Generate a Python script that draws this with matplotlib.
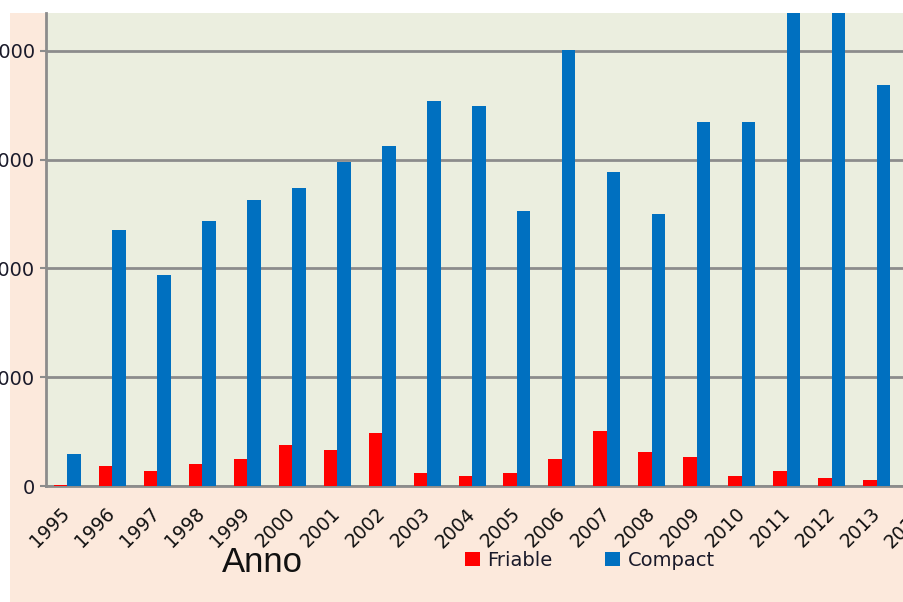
import matplotlib
matplotlib.use("Agg")
import matplotlib.pyplot as plt
import numpy as np
from matplotlib.patches import Rectangle, Patch

years = ["1995", "1996", "1997", "1998", "1999", "2000", "2001", "2002", "2003", "2004",
         "2005", "2006", "2007", "2008", "2009", "2010", "2011", "2012", "2013", "2014"]
friable = [10, 181, 141, 205, 245, 377, 334, 484, 117, 95,
           117, 245, 505, 312, 269, 95, 141, 74, 52]
compact = [291, 2353, 1942, 2438, 2629, 2742, 2975, 3125, 3536, 3493,
           2525, 4004, 2889, 2503, 3343, 3343, 4800, 4750, 3689]
yticks = [0, 1000, 2000, 3000, 4000]

W, H = 904, 602
fig = plt.figure(figsize=(W / 100, H / 100), dpi=100)
fig.patch.set_facecolor("white")
fig.patches.append(Rectangle((10 / W, 0.5 / H), 1, (589 - 0.5) / H,
                             transform=fig.transFigure, facecolor="#FCE9DC",
                             edgecolor="none", zorder=-10))

ax = fig.add_axes([46 / W, 116 / H, 897 / W, 473 / H])
ax.set_zorder(1)
ax.set_facecolor("#EBEEDF")

x = np.arange(len(friable))
bw = 0.3
ax.bar(x - bw / 2, friable, bw, color="#FF0000", zorder=3)
ax.bar(x + bw / 2, compact, bw, color="#0070C0", zorder=3)

ax.set_xlim(-0.47, len(years) - 1 + 0.47)
ax.set_ylim(0, 4347)
ax.set_yticks(yticks)
ax.set_yticklabels([str(v) for v in yticks])
ax.yaxis.grid(True, color="#8C8C8C", linewidth=2, zorder=1)
ax.set_axisbelow(True)

ax.set_xticks(np.arange(len(years)))
ax.set_xticklabels(years, rotation=45, ha="right", va="center",
                   rotation_mode="anchor", fontsize=13.5, color="#111111")
ax.tick_params(axis="x", length=0, pad=18)
ax.tick_params(axis="y", length=4, width=1.5, color="#8C8C8C", pad=4,
               labelsize=14, labelcolor="#1a1a2a")

for s in ["top", "right"]:
    ax.spines[s].set_visible(False)
for s in ["left", "bottom"]:
    ax.spines[s].set_color("#8C8C8C")
    ax.spines[s].set_linewidth(2)

fig.text(262 / W, 1 - 562 / H, "Anno", fontsize=25, family="Liberation Sans",
         ha="center", va="center", color="#111111", zorder=5)

handles = [Patch(facecolor="#FF0000", label="Friable"),
           Patch(facecolor="#0070C0", label="Compact")]
leg = fig.legend(handles=handles, ncol=2, loc="upper left",
                 bbox_to_anchor=(465 / W, 1 - 551 / H), bbox_transform=fig.transFigure,
                 frameon=False, fontsize=14, handlelength=0.75, handleheight=0.75,
                 handletextpad=0.4, columnspacing=2.7, borderpad=0, borderaxespad=0,
                 labelcolor="#1a1a2a")
leg.set_zorder(5)

fig.savefig("out.png", dpi=100)
